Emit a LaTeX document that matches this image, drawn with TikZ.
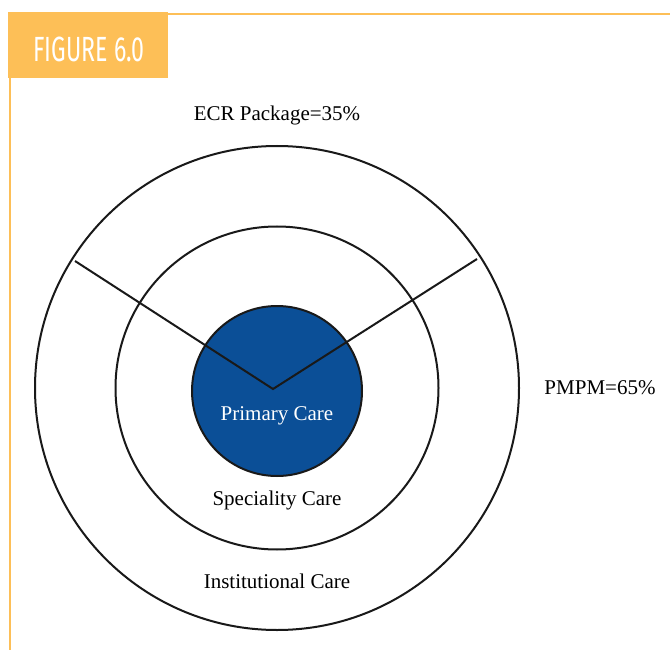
\documentclass[tikz,border=0pt]{standalone}
\usepackage{fontspec}
\setmainfont{Liberation Serif}
\newfontfamily\headfont[FakeStretch=0.66]{Fira Sans}
\usetikzlibrary{positioning}
\definecolor{figorange}{HTML}{FDBF57}
\definecolor{careblue}{HTML}{0B4F97}

\begin{document}
\begin{tikzpicture}[x=1pt, y=-1pt]
    \tikzstyle{ring}=[
        circle,
        draw = black!90,
        line width = 2pt,
        inner sep = 0pt
    ]
    \tikzstyle{caption}=[font=\fontsize{21}{24}\selectfont, inner sep=0pt]
    \useasboundingbox (0,0) rectangle (670,650);
    % frame
    \fill[figorange] (8,12) rectangle (168,78);
    \draw[figorange, line width=2.5pt] (168,14) -- (670,14);
    \draw[figorange, line width=2.5pt] (10,78) -- (10,650);
    \node[text=white, inner sep=0pt, font=\headfont\fontsize{35}{35}\selectfont] (title) at (89,49) {FIGURE 6.0};
    % rings
    \node[ring, minimum size=484pt] (outer) at (277,388) {};
    \node[ring, minimum size=323pt] (middle) at (277,388) {};
    \node[ring, fill=careblue, minimum size=170pt] (inner) at (277,391) {};
    \coordinate (apex) at (273,389);
    \coordinate (lend) at (75,261);
    \coordinate (rend) at (477,259);
    \draw[line width=2pt, black!90] (lend) -- (apex) -- (rend);
    % labels
    \node[caption] (ecr) at (277,115) {ECR Package=35\%};
    \node[caption] (pmpm) at (600,388) {PMPM=65\%};
    \node[caption, text=white] (primary) at (277,416) {Primary Care};
    \node[caption] (speciality) at (277,500) {Speciality Care};
    \node[caption] (institutional) at (277,581) {Institutional Care};
\end{tikzpicture}
\end{document}
